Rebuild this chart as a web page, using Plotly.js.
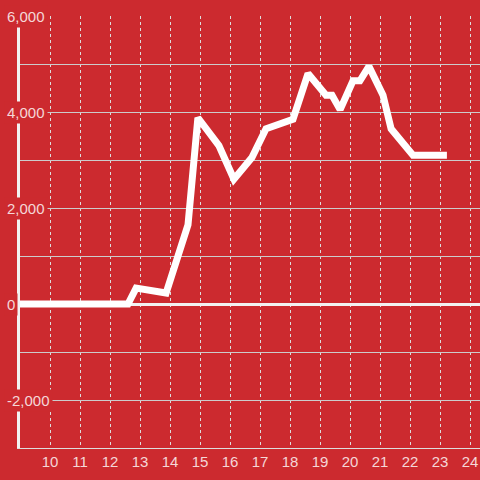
<!DOCTYPE html>
<html>
<head>
<meta charset="utf-8">
<script src="https://cdn.plot.ly/plotly-3.0.1.min.js"></script>
<style>html,body{margin:0;padding:0;background:#cc2a2f;}#chart{width:480px;height:480px;}</style>
</head>
<body>
<div id="chart"></div>
<script>
var xValues = [9, 12.6, 12.87, 13.87, 14.6, 14.93, 15.63, 16.13, 16.73, 17.2, 18.1, 18.6, 19.2, 19.4, 19.67, 20.1, 20.33, 20.63, 21.1, 21.37, 22.1, 23.23];
var yValues = [0, 0, 330, 230, 1650, 3880, 3300, 2600, 3050, 3650, 3850, 4800, 4350, 4350, 4050, 4650, 4650, 4950, 4350, 3650, 3100, 3100];
var xTicks = [10, 11, 12, 13, 14, 15, 16, 17, 18, 19, 20, 21, 22, 23, 24];
var yTickValues = [6000, 4000, 2000, 0, -2000];
var yTickLabels = ['6,000', '4,000', '2,000', '0', '-2,000'];

var bg = '#cc2a2f';
var labelColor = 'rgba(255,255,255,0.82)';

var annotations = yTickValues.map(function (v, i) {
  return {
    xref: 'paper', yref: 'y', x: -0.035, y: v,
    xanchor: 'left', yanchor: 'middle',
    text: yTickLabels[i], showarrow: false,
    font: {family: 'Liberation Sans, Arial, sans-serif', size: 15, color: labelColor},
    bgcolor: bg, borderpad: 2
  };
});

var trace = {
  x: xValues, y: yValues, type: 'scatter', mode: 'lines',
  line: {color: '#ffffff', width: 7},
  hoverinfo: 'skip'
};

var layout = {
  width: 480, height: 480,
  margin: {l: 20, r: 0, t: 16, b: 32},
  paper_bgcolor: bg, plot_bgcolor: bg,
  showlegend: false,
  font: {family: 'Liberation Sans, Arial, sans-serif', size: 15, color: labelColor},
  xaxis: {
    range: [9, 24.333], tickmode: 'array', tickvals: xTicks, ticktext: xTicks.map(String),
    showgrid: true, gridcolor: '#dddddd', gridwidth: 1, griddash: 'dot',
    showline: true, linecolor: '#dddddd', linewidth: 1,
    zeroline: false, ticks: '', fixedrange: true
  },
  yaxis: {
    range: [-3000, 6000], tickmode: 'linear', tick0: 0, dtick: 1000,
    showticklabels: false,
    showgrid: true, gridcolor: '#cccccc', gridwidth: 1,
    zeroline: true, zerolinecolor: '#f2f2f2', zerolinewidth: 3,
    showline: true, linecolor: '#f2f2f2', linewidth: 3,
    ticks: '', fixedrange: true
  },
  annotations: annotations
};

Plotly.newPlot('chart', [trace], layout, {displayModeBar: false, staticPlot: true});
</script>
</body>
</html>
